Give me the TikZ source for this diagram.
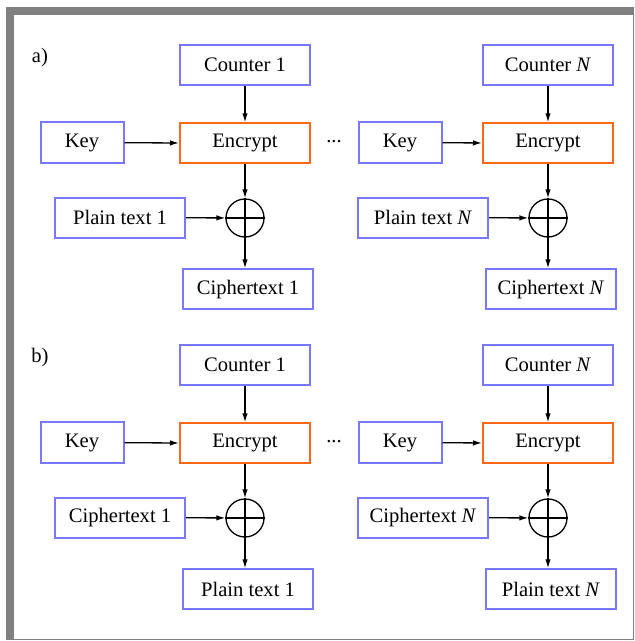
\documentclass[tikz,border=0pt]{standalone}
\usepackage{fontspec}
\setmainfont{Liberation Serif}
\usetikzlibrary{arrows.meta}
\definecolor{boxblue}{RGB}{120,120,255}
\definecolor{encorange}{RGB}{255,104,24}
\definecolor{framegray}{RGB}{128,128,128}
\tikzset{every node/.style={font=\fontsize{20.6}{24}\selectfont},
  blk/.style={draw=boxblue, line width=2pt, minimum width=130pt, minimum height=40pt, inner sep=0pt},
  encblk/.style={blk, draw=encorange},
  xorop/.style={circle, draw, line width=1.3pt, minimum size=38pt, inner sep=0pt},
  flow/.style={line width=1.3pt, -{Latex[length=9pt,width=5.5pt]}}}

\begin{document}
\begin{tikzpicture}[x=1pt, y=-1pt]
  \useasboundingbox (0,0) rectangle (635,641);
  \fill[framegray] (6,7) rectangle (634,15);
  \fill[framegray] (6,7) rectangle (14,640);
  \draw[framegray, line width=1.2pt] (633.5,15) -- (633.5,639.5) -- (14,639.5);

  \foreach \pan/\dy/\src/\dst in {a/0/Plain text/Ciphertext, b/300/Ciphertext/Plain text} {
    \begin{scope}[yshift=-\dy]
      \node at (40,58) (lbl) {\pan)};
      \node at (334,142) (dots) {...};
      \foreach \dx/\kx/\num in {0/82/1, 303/97/\textit{N}} {
        \begin{scope}[xshift=\dx]
          \node[blk] at (245,65) (cnt) {Counter \num};
          \node[blk, minimum width=83pt, minimum height=41pt] at (\kx,142.5) (key) {Key};
          \node[encblk] at (245,143.3) (enc) {Encrypt};
          \node[blk] at (120,217.5) (src) {\src\ \num};
          \node[xorop] at (245,218) (xor) {};
          \node[blk] at (248,289.3) (dst) {\dst\ \num};

          \draw[line width=1.3pt] (xor.north) -- (xor.south);
          \draw[line width=1.3pt] (xor.west) -- (xor.east);
          \draw[flow] (cnt) -- (enc);
          \draw[flow] (key) -- (enc);
          \draw[flow] (enc) -- (xor);
          \draw[flow] (src) -- (xor);
          \draw[flow] (xor.south) -- (xor.south |- dst.north);
        \end{scope}
      }
    \end{scope}
  }
\end{tikzpicture}
\end{document}
